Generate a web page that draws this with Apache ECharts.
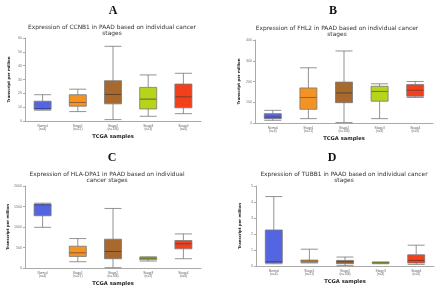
<!DOCTYPE html>
<html>
<head>
<meta charset="utf-8">
<script src="https://cdn.jsdelivr.net/npm/echarts@6/dist/echarts.min.js"></script>
<style>
  html, body { margin: 0; padding: 0; background: #fff; }
  #main { width: 440px; height: 288px; }
</style>
</head>
<body>
<div id="main"></div>
<script>
// categories shared by the four panels
var stages = ['Normal\n(n=4)', 'Stage1\n(n=21)', 'Stage2\n(n=146)', 'Stage3\n(n=3)', 'Stage4\n(n=4)'];
var stageColors = ['#5564e0', '#f39325', '#a8692e', '#b8d41a', '#f2401c'];
var medianColors = ['#2d3a9c', '#a45a10', '#5c3610', '#6a7c08', '#9a2208'];

// [min, Q1, median, Q3, max] per stage
var ccnb1 = [[7.8, 8.5, 9, 14.3, 19], [6.8, 10.7, 13.4, 19, 23], [1, 12.4, 19.2, 29.1, 54], [3.4, 8.7, 15.8, 24.3, 33.3], [5.3, 9.5, 17.5, 26.7, 34.5]];
var fhl2 = [[13, 21, 29, 45, 61], [21, 66, 123, 169, 266], [2, 98, 145, 197, 347], [21, 105, 152, 177, 189], [123, 129, 158, 185, 200]];
var hladpa1 = [[992, 1274, 1540, 1556, 1581], [153, 282, 371, 532, 718], [8, 226, 403, 702, 1452], [169, 202, 234, 258, 274], [226, 468, 589, 669, 831]];
var tubb1 = [[0.14, 0.19, 0.27, 2.25, 4.34], [0.19, 0.23, 0.31, 0.37, 1.05], [0.02, 0.14, 0.27, 0.35, 0.56], [0.14, 0.17, 0.21, 0.23, 0.25], [0.10, 0.19, 0.35, 0.70, 1.30]];

// y-axis ranges per panel
var yMax = [60, 400, 2000, 5];
var yStep = [10, 100, 500, 1];

var letters = ['A', 'B', 'C', 'D'];
var titles = [
  'Expression of CCNB1 in PAAD based on individual cancer\nstages',
  'Expression of FHL2 in PAAD based on individual cancer\nstages',
  'Expression of HLA-DPA1 in PAAD based on individual\ncancer stages',
  'Expression of TUBB1 in PAAD based on individual cancer\nstages'
];
var panelData = [ccnb1, fhl2, hladpa1, tubb1];

var grids = [
  {left: 25, top: 38, width: 176, height: 83},
  {left: 255, top: 40, width: 178, height: 83},
  {left: 25, top: 186, width: 176, height: 82},
  {left: 256, top: 186, width: 178, height: 80}
];
var letterPos = [[108, 0], [328, 0], [107, 147], [327, 147]];
var titlePos = [[107, 19], [332, 20], [102, 166], [339, 166]];

var chart = echarts.init(document.getElementById('main'));

var titleList = [], xAxes = [], yAxes = [], series = [];
for (var i = 0; i < 4; i++) {
  titleList.push({
    text: letters[i], left: letterPos[i][0], top: letterPos[i][1], textAlign: 'center',
    textStyle: {fontFamily: 'Liberation Serif', fontWeight: 'bold', fontSize: 12, color: '#111'}
  });
  titleList.push({
    text: titles[i], left: titlePos[i][0], top: titlePos[i][1], textAlign: 'center',
    textStyle: {fontFamily: 'DejaVu Sans', fontWeight: 'normal', fontSize: 5.9, lineHeight: 6.5, color: '#333'}
  });
  xAxes.push({
    type: 'category', gridIndex: i, data: stages,
    name: 'TCGA samples', nameLocation: 'middle', nameGap: 13,
    nameTextStyle: {fontSize: 5.2, fontWeight: 'bold', color: '#222', fontFamily: 'DejaVu Sans'},
    axisLine: {lineStyle: {color: '#aaa', width: 1}},
    axisTick: {show: false},
    axisLabel: {fontSize: 3.2, lineHeight: 3.6, color: '#666', margin: 3, interval: 0}
  });
  yAxes.push({
    type: 'value', gridIndex: i, min: 0, max: yMax[i], interval: yStep[i],
    name: 'Transcript per million', nameLocation: 'middle', nameGap: 14,
    nameTextStyle: {fontSize: 3.8, fontWeight: 'bold', color: '#222', fontFamily: 'DejaVu Sans'},
    splitLine: {show: false},
    axisLine: {show: true, lineStyle: {color: '#aaa', width: 1}},
    axisTick: {show: true, length: 2, lineStyle: {color: '#aaa'}},
    axisLabel: {fontSize: 3.6, color: '#777', margin: 3, formatter: function (v) { return String(v); }}
  });
  // whiskers in grey, boxes filled per stage
  series.push({
    type: 'boxplot', xAxisIndex: i, yAxisIndex: i,
    boxWidth: [17, 17],
    data: panelData[i].map(function (d, k) {
      return {value: d, itemStyle: {color: stageColors[k], borderColor: '#777', borderWidth: 0.8}};
    }),
    silent: true
  });
  // median overlay
  series.push({
    type: 'scatter', xAxisIndex: i, yAxisIndex: i, symbol: 'rect', symbolSize: [16, 1], silent: true,
    data: panelData[i].map(function (d, k) {
      return {value: [k, d[2]], itemStyle: {color: medianColors[k]}};
    })
  });
}

chart.setOption({
  animation: false,
  backgroundColor: '#fff',
  title: titleList,
  grid: grids,
  xAxis: xAxes,
  yAxis: yAxes,
  series: series
});
</script>
</body>
</html>
